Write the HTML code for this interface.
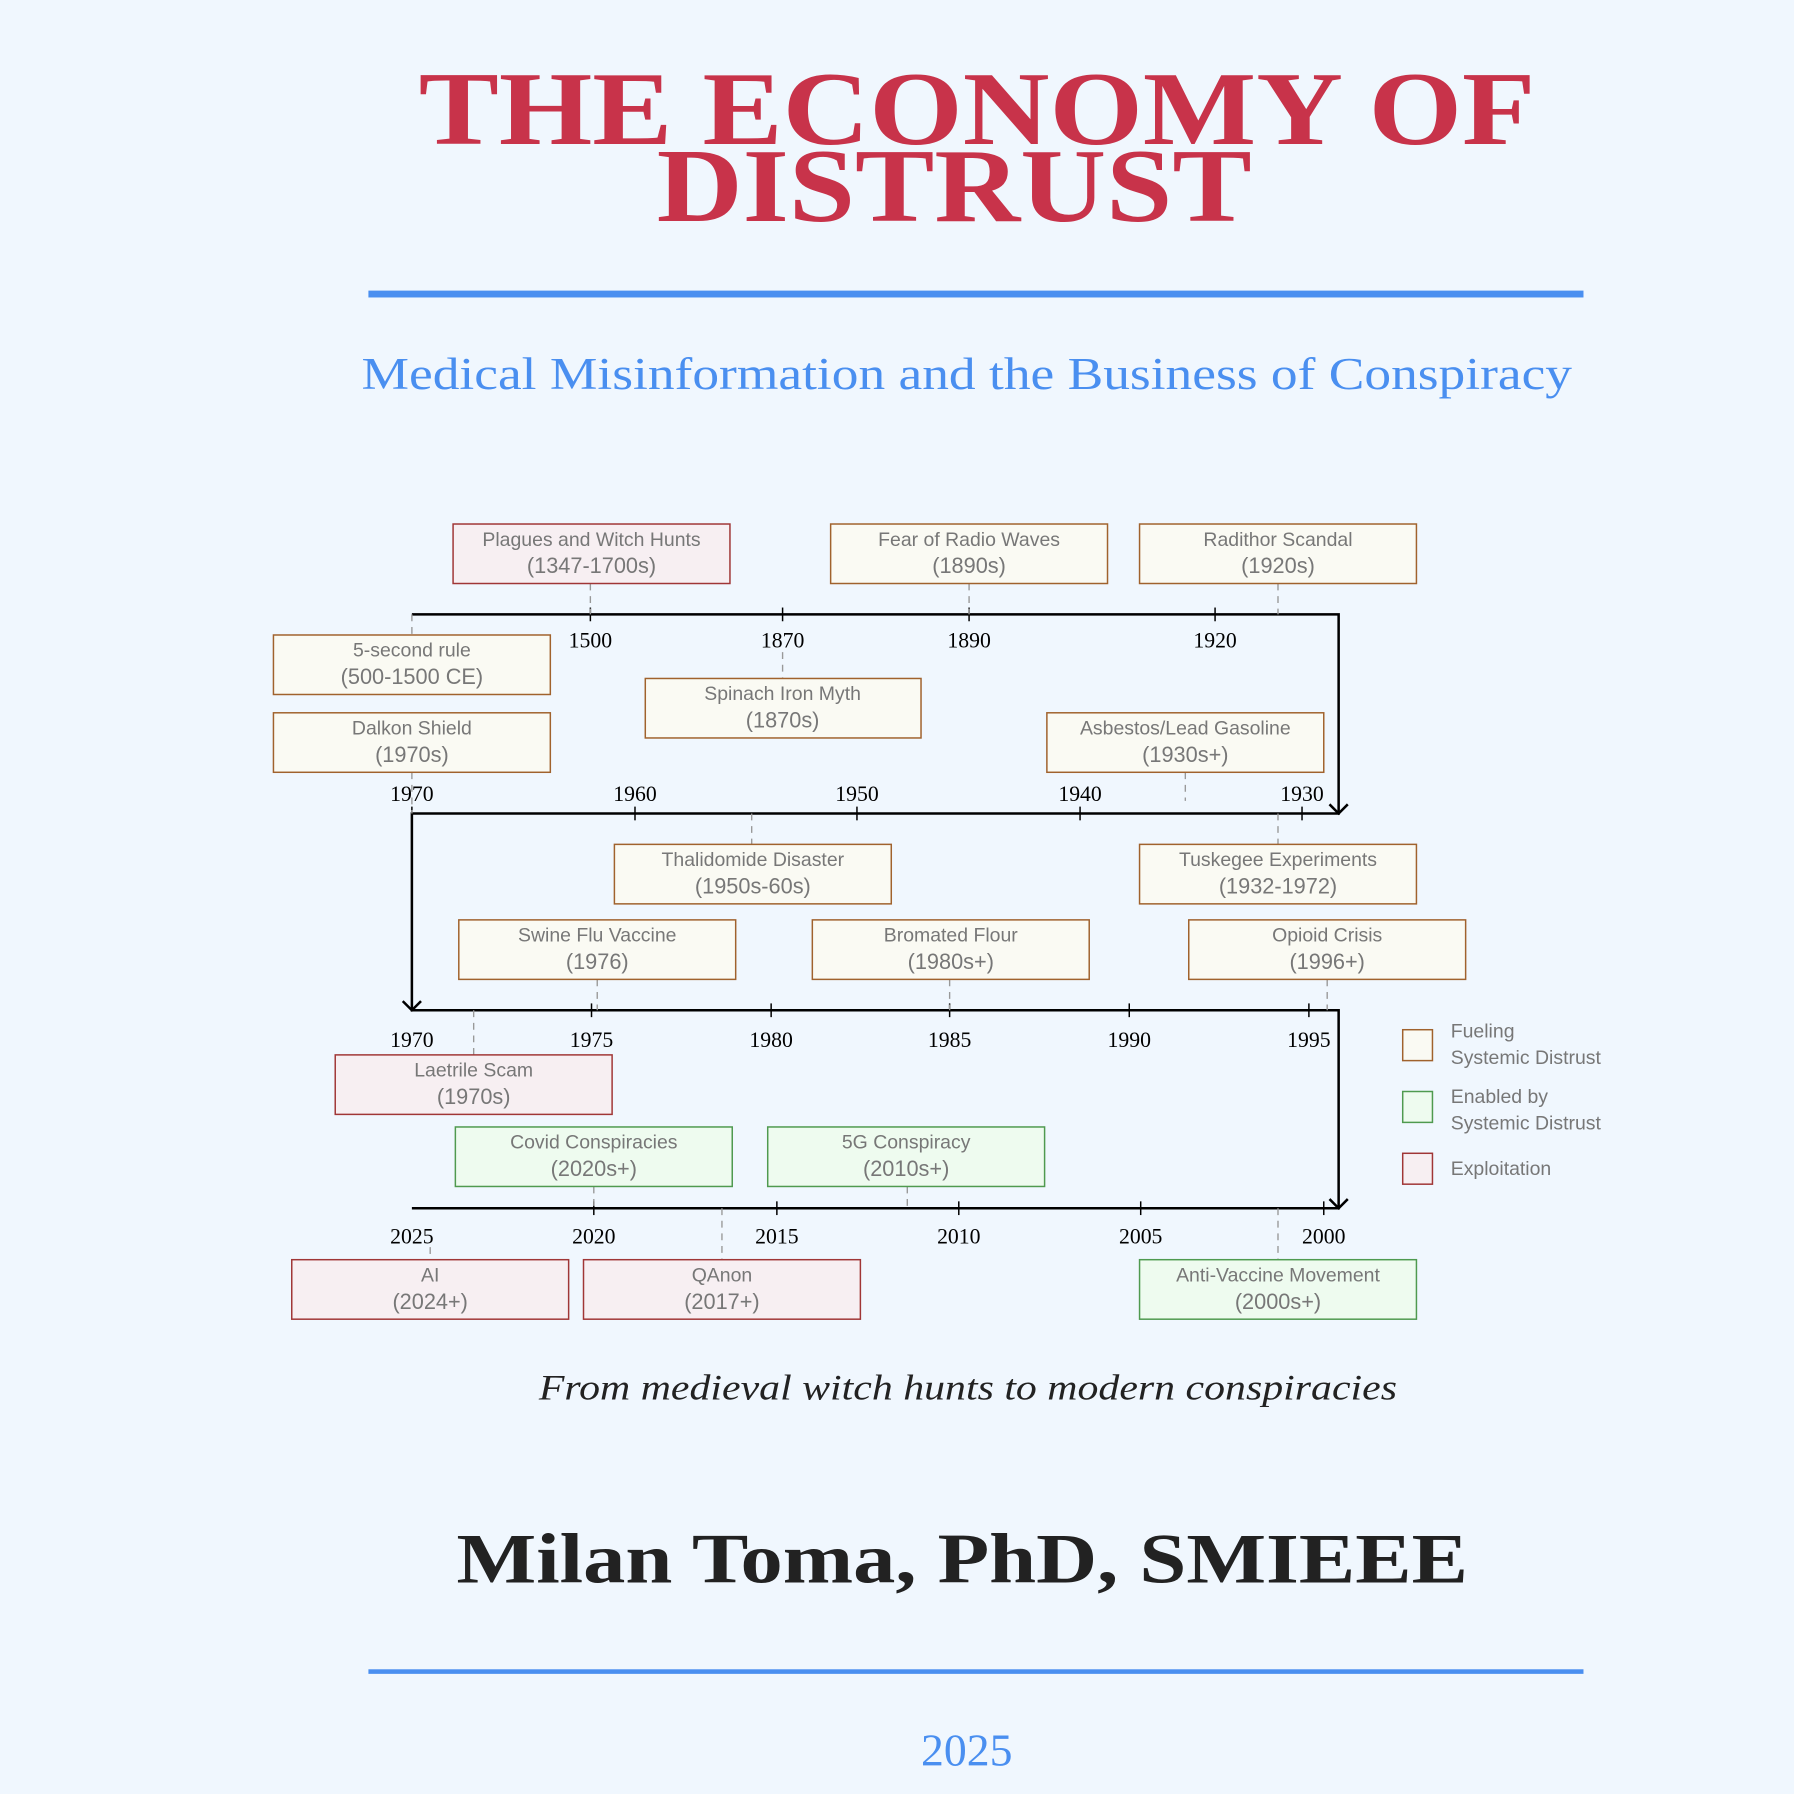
<!DOCTYPE html>
<html><head><meta charset="utf-8"><style>
html,body{margin:0;padding:0;background:#f0f7fe;}
svg{display:block}
.bx{font-family:"Liberation Sans",sans-serif;font-size:17px;fill:#777;text-anchor:middle}
.b2{font-size:19px}
.yr{font-family:"Liberation Serif",serif;font-size:19px;fill:#000;text-anchor:middle}
.f{fill:#fafaf3;stroke:#a0622d;stroke-width:1.3}
.e{fill:#eefbef;stroke:#4f9a4f;stroke-width:1.3}
.x{fill:#f7eff2;stroke:#a03636;stroke-width:1.3}
.d{stroke:#999;stroke-width:1.2;stroke-dasharray:6,5;fill:none}
.ax{stroke:#000;stroke-width:2.2;fill:none}
.tk{stroke:#000;stroke-width:1.3}
</style></head><body>
<svg width="1794" height="1794" viewBox="0 0 1568 1568" xmlns="http://www.w3.org/2000/svg">
<rect width="1568" height="1568" fill="#f0f7fe"/>
<g font-family="Liberation Serif,serif" text-anchor="middle">
<text x="854" y="126" font-size="92" font-weight="bold" fill="#c8334a" textLength="976" lengthAdjust="spacingAndGlyphs">THE ECONOMY OF</text>
<text x="834" y="193" font-size="92" font-weight="bold" fill="#c8334a" textLength="520" lengthAdjust="spacingAndGlyphs">DISTRUST</text>
<rect x="322" y="254" width="1062" height="6" fill="#4a8ff0"/>
<text x="845" y="340" font-size="40" fill="#4a8ff0" textLength="1058" lengthAdjust="spacingAndGlyphs">Medical Misinformation and the Business of Conspiracy</text>
<text x="846" y="1223" font-size="31" font-style="italic" fill="#222" textLength="750" lengthAdjust="spacingAndGlyphs">From medieval witch hunts to modern conspiracies</text>
<text x="841" y="1383" font-size="62" font-weight="bold" fill="#222" textLength="884" lengthAdjust="spacingAndGlyphs">Milan Toma, PhD, SMIEEE</text>
<rect x="322" y="1459" width="1062" height="4" fill="#4a8ff0"/>
<text x="845" y="1543" font-size="40" fill="#4a8ff0">2025</text>
</g>

<path class="ax" d="M360 537 H1170 V711 H360 V883 H1170 V1056 H360"/>
<path class="ax" d="M1162 703 L1170 711 L1178 703 M352 875 L360 883 L368 875 M1162 1048 L1170 1056 L1178 1048" stroke-width="2"/>
<g class="tk">
<line x1="516" y1="531" x2="516" y2="543"/><line x1="684" y1="531" x2="684" y2="543"/><line x1="847" y1="531" x2="847" y2="543"/><line x1="1062" y1="531" x2="1062" y2="543"/>
<line x1="360" y1="705" x2="360" y2="717"/><line x1="555" y1="705" x2="555" y2="717"/><line x1="749" y1="705" x2="749" y2="717"/><line x1="944" y1="705" x2="944" y2="717"/><line x1="1138" y1="705" x2="1138" y2="717"/>
<line x1="517" y1="877" x2="517" y2="889"/><line x1="674" y1="877" x2="674" y2="889"/><line x1="830" y1="877" x2="830" y2="889"/><line x1="987" y1="877" x2="987" y2="889"/><line x1="1144" y1="877" x2="1144" y2="889"/>
<line x1="519" y1="1050" x2="519" y2="1062"/><line x1="679" y1="1050" x2="679" y2="1062"/><line x1="838" y1="1050" x2="838" y2="1062"/><line x1="997" y1="1050" x2="997" y2="1062"/><line x1="1157" y1="1050" x2="1157" y2="1062"/>
</g>
<g class="yr">
<text x="516" y="566">1500</text><text x="684" y="566">1870</text><text x="847" y="566">1890</text><text x="1062" y="566">1920</text>
<text x="360" y="700">1970</text><text x="555" y="700">1960</text><text x="749" y="700">1950</text><text x="944" y="700">1940</text><text x="1138" y="700">1930</text>
<text x="360" y="915">1970</text><text x="517" y="915">1975</text><text x="674" y="915">1980</text><text x="830" y="915">1985</text><text x="987" y="915">1990</text><text x="1144" y="915">1995</text>
<text x="360" y="1087">2025</text><text x="519" y="1087">2020</text><text x="679" y="1087">2015</text><text x="838" y="1087">2010</text><text x="997" y="1087">2005</text><text x="1157" y="1087">2000</text>
</g>
<g class="d">
<line x1="516" y1="510" x2="516" y2="537"/><line x1="847" y1="510" x2="847" y2="537"/><line x1="1117" y1="510" x2="1117" y2="537"/>
<line x1="360" y1="537" x2="360" y2="555"/><line x1="684" y1="570" x2="684" y2="593"/>
<line x1="360" y1="675" x2="360" y2="711"/><line x1="1036" y1="675" x2="1036" y2="700"/>
<line x1="657" y1="711" x2="657" y2="738"/><line x1="1117" y1="711" x2="1117" y2="738"/>
<line x1="522" y1="856" x2="522" y2="883"/><line x1="830" y1="856" x2="830" y2="883"/><line x1="1160" y1="856" x2="1160" y2="883"/>
<line x1="414" y1="883" x2="414" y2="922"/>
<line x1="519" y1="1037" x2="519" y2="1056"/><line x1="793" y1="1037" x2="793" y2="1056"/>
<line x1="376" y1="1090" x2="376" y2="1101"/><line x1="631" y1="1056" x2="631" y2="1101"/><line x1="1117" y1="1056" x2="1117" y2="1101"/>
</g>
<g>
<rect class="x" x="396" y="458" width="242" height="52"/><text class="bx" x="517" y="477">Plagues and Witch Hunts</text><text class="bx b2" x="517" y="501">(1347-1700s)</text>
<rect class="f" x="726" y="458" width="242" height="52"/><text class="bx" x="847" y="477">Fear of Radio Waves</text><text class="bx b2" x="847" y="501">(1890s)</text>
<rect class="f" x="996" y="458" width="242" height="52"/><text class="bx" x="1117" y="477">Radithor Scandal</text><text class="bx b2" x="1117" y="501">(1920s)</text>
<rect class="f" x="239" y="555" width="242" height="52"/><text class="bx" x="360" y="574">5-second rule</text><text class="bx b2" x="360" y="598">(500-1500 CE)</text>
<rect class="f" x="239" y="623" width="242" height="52"/><text class="bx" x="360" y="642">Dalkon Shield</text><text class="bx b2" x="360" y="666">(1970s)</text>
<rect class="f" x="564" y="593" width="241" height="52"/><text class="bx" x="684" y="612">Spinach Iron Myth</text><text class="bx b2" x="684" y="636">(1870s)</text>
<rect class="f" x="915" y="623" width="242" height="52"/><text class="bx" x="1036" y="642">Asbestos/Lead Gasoline</text><text class="bx b2" x="1036" y="666">(1930s+)</text>
<rect class="f" x="537" y="738" width="242" height="52"/><text class="bx" x="658" y="757">Thalidomide Disaster</text><text class="bx b2" x="658" y="781">(1950s-60s)</text>
<rect class="f" x="996" y="738" width="242" height="52"/><text class="bx" x="1117" y="757">Tuskegee Experiments</text><text class="bx b2" x="1117" y="781">(1932-1972)</text>
<rect class="f" x="401" y="804" width="242" height="52"/><text class="bx" x="522" y="823">Swine Flu Vaccine</text><text class="bx b2" x="522" y="847">(1976)</text>
<rect class="f" x="710" y="804" width="242" height="52"/><text class="bx" x="831" y="823">Bromated Flour</text><text class="bx b2" x="831" y="847">(1980s+)</text>
<rect class="f" x="1039" y="804" width="242" height="52"/><text class="bx" x="1160" y="823">Opioid Crisis</text><text class="bx b2" x="1160" y="847">(1996+)</text>
<rect class="x" x="293" y="922" width="242" height="52"/><text class="bx" x="414" y="941">Laetrile Scam</text><text class="bx b2" x="414" y="965">(1970s)</text>
<rect class="e" x="398" y="985" width="242" height="52"/><text class="bx" x="519" y="1004">Covid Conspiracies</text><text class="bx b2" x="519" y="1028">(2020s+)</text>
<rect class="e" x="671" y="985" width="242" height="52"/><text class="bx" x="792" y="1004">5G Conspiracy</text><text class="bx b2" x="792" y="1028">(2010s+)</text>
<rect class="x" x="255" y="1101" width="242" height="52"/><text class="bx" x="376" y="1120">AI</text><text class="bx b2" x="376" y="1144">(2024+)</text>
<rect class="x" x="510" y="1101" width="242" height="52"/><text class="bx" x="631" y="1120">QAnon</text><text class="bx b2" x="631" y="1144">(2017+)</text>
<rect class="e" x="996" y="1101" width="242" height="52"/><text class="bx" x="1117" y="1120">Anti-Vaccine Movement</text><text class="bx b2" x="1117" y="1144">(2000s+)</text>
</g>
<rect class="f" x="1226" y="900" width="26" height="27"/>
<rect class="e" x="1226" y="954" width="26" height="27"/>
<rect class="x" x="1226" y="1008" width="26" height="27"/>
<g font-family="Liberation Sans,sans-serif" font-size="17" fill="#777">
<text x="1268" y="907">Fueling</text><text x="1268" y="930">Systemic Distrust</text>
<text x="1268" y="964">Enabled by</text><text x="1268" y="987">Systemic Distrust</text>
<text x="1268" y="1027">Exploitation</text>
</g>
</svg>
</body></html>
